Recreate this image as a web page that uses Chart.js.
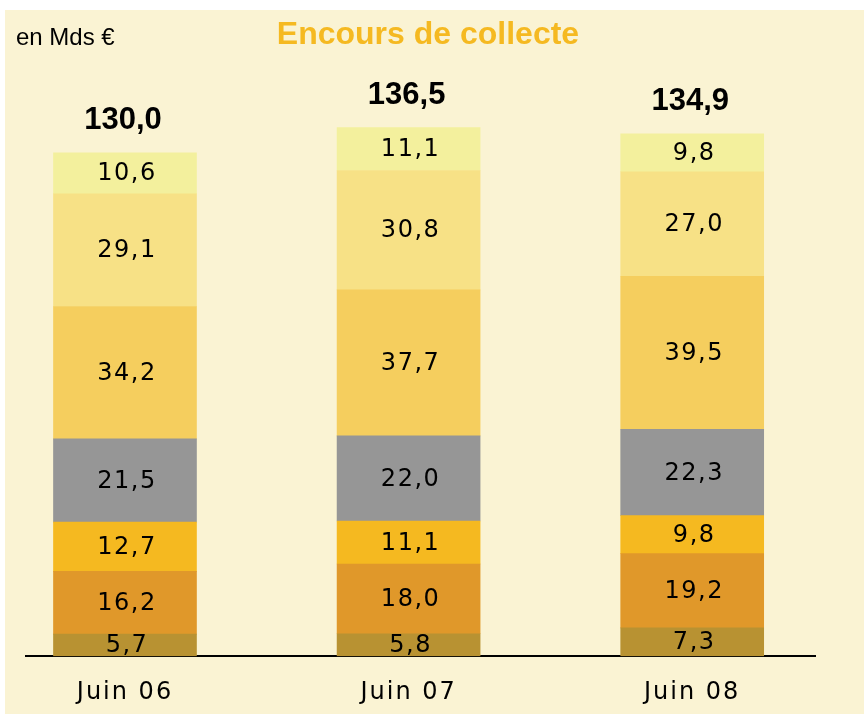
<!DOCTYPE html>
<html>
<head>
<meta charset="utf-8">
<script src="https://cdn.jsdelivr.net/npm/chart.js@4.4.1/dist/chart.umd.min.js"></script>
<style>
  html, body { margin: 0; padding: 0; background: #ffffff; }
  #wrap { width: 864px; height: 714px; }
</style>
</head>
<body>
<div id="wrap"><canvas id="plot" width="864" height="714"></canvas></div>
<script>
"use strict";

// categories and values (Mds €), bottom to top
const periods = ['Juin 06', 'Juin 07', 'Juin 08'];
const seg1 = [5.7, 5.8, 7.3];
const seg2 = [16.2, 18.0, 19.2];
const seg3 = [12.7, 11.1, 9.8];
const seg4 = [21.5, 22.0, 22.3];
const seg5 = [34.2, 37.7, 39.5];
const seg6 = [29.1, 30.8, 27.0];
const seg7 = [10.6, 11.1, 9.8];
const totals = [130.0, 136.5, 134.9];

const segColors = ['#b89232', '#e0982a', '#f5b920', '#969696', '#f5ce5e', '#f7e186', '#f3f09d'];

const cream = '#faf3d3';
const labelFont = '"DejaVu Sans", Verdana, sans-serif';

function fmt(v) {
    return v.toFixed(1).replace('.', ',');
}

// build the datasets (one per stacked segment)
let segs = [seg1, seg2, seg3, seg4, seg5, seg6, seg7];
let datasets = [];
for (let i = 0; i < segs.length; i++) {
    datasets.push({
        data: segs[i].map((v, k) => ({ x: k, y: v })),
        backgroundColor: segColors[i],
        borderWidth: 0,
        barThickness: 143,
    });
}

// panel background + title
const backgroundPlugin = {
    id: 'panel',
    beforeDraw(chart) {
        const ctx = chart.ctx;
        ctx.save();
        ctx.fillStyle = cream;
        ctx.fillRect(5, 10, chart.width - 5, chart.height - 10);
        ctx.textBaseline = 'middle';
        ctx.fillStyle = '#000000';
        ctx.font = '24px "Liberation Sans", Arial, sans-serif';
        ctx.textAlign = 'left';
        ctx.fillText('en Mds €', 16, 38);
        ctx.fillStyle = '#f5b921';
        ctx.font = 'bold 32px "Liberation Sans", Arial, sans-serif';
        ctx.textAlign = 'center';
        ctx.fillText('Encours de collecte', 428, 35);
        ctx.restore();
        // slightly wider spacing used by the segment and axis labels
        ctx.letterSpacing = '2px';
    }
};

// values inside each segment and totals above the bars
const labelsPlugin = {
    id: 'segLabels',
    afterDatasetsDraw(chart) {
        const ctx = chart.ctx;
        ctx.save();
        ctx.textAlign = 'center';
        ctx.textBaseline = 'middle';
        ctx.fillStyle = '#000000';
        ctx.font = '24px ' + labelFont;
        ctx.letterSpacing = '1.5px';
        chart.data.datasets.forEach((ds, i) => {
            const meta = chart.getDatasetMeta(i);
            meta.data.forEach((bar, k) => {
                const yc = (bar.y + bar.base) / 2;
                ctx.fillText(fmt(segs[i][k]), bar.x + 2, yc + 1);
            });
        });
        const topMeta = chart.getDatasetMeta(chart.data.datasets.length - 1);
        ctx.font = 'bold 31px "Liberation Sans", Arial, sans-serif';
        ctx.letterSpacing = '0px';
        topMeta.data.forEach((bar, k) => {
            ctx.fillText(fmt(totals[k]), bar.x - 2, bar.y - 32);
        });
        ctx.restore();
    }
};

const plotCanvas = document.getElementById('plot');
const chart = new Chart(plotCanvas, {
    type: 'bar',
    data: { datasets: datasets },
    options: {
        responsive: false,
        animation: false,
        devicePixelRatio: 1,
        layout: { padding: { left: 26, right: 49, top: 114, bottom: -15 } },
        plugins: {
            legend: { display: false },
            tooltip: { enabled: false },
            title: { display: false },
        },
        scales: {
            x: {
                type: 'linear',
                stacked: true,
                offset: false,
                min: -0.349,
                max: 2.433,
                grid: { display: false, drawTicks: false },
                border: { display: true, color: '#000000', width: 2 },
                afterBuildTicks: (axis) => {
                    axis.ticks = periods.map((p, k) => ({ value: k }));
                },
                ticks: {
                    color: '#000000',
                    font: { family: labelFont, size: 24 },
                    padding: 22,
                    maxRotation: 0,
                    autoSkip: false,
                    callback: (v) => periods[v] !== undefined ? periods[v] : '',
                },
            },
            y: {
                stacked: true,
                display: false,
                min: 0,
                max: 140,
            }
        }
    },
    plugins: [backgroundPlugin, labelsPlugin]
});
</script>
</body>
</html>
